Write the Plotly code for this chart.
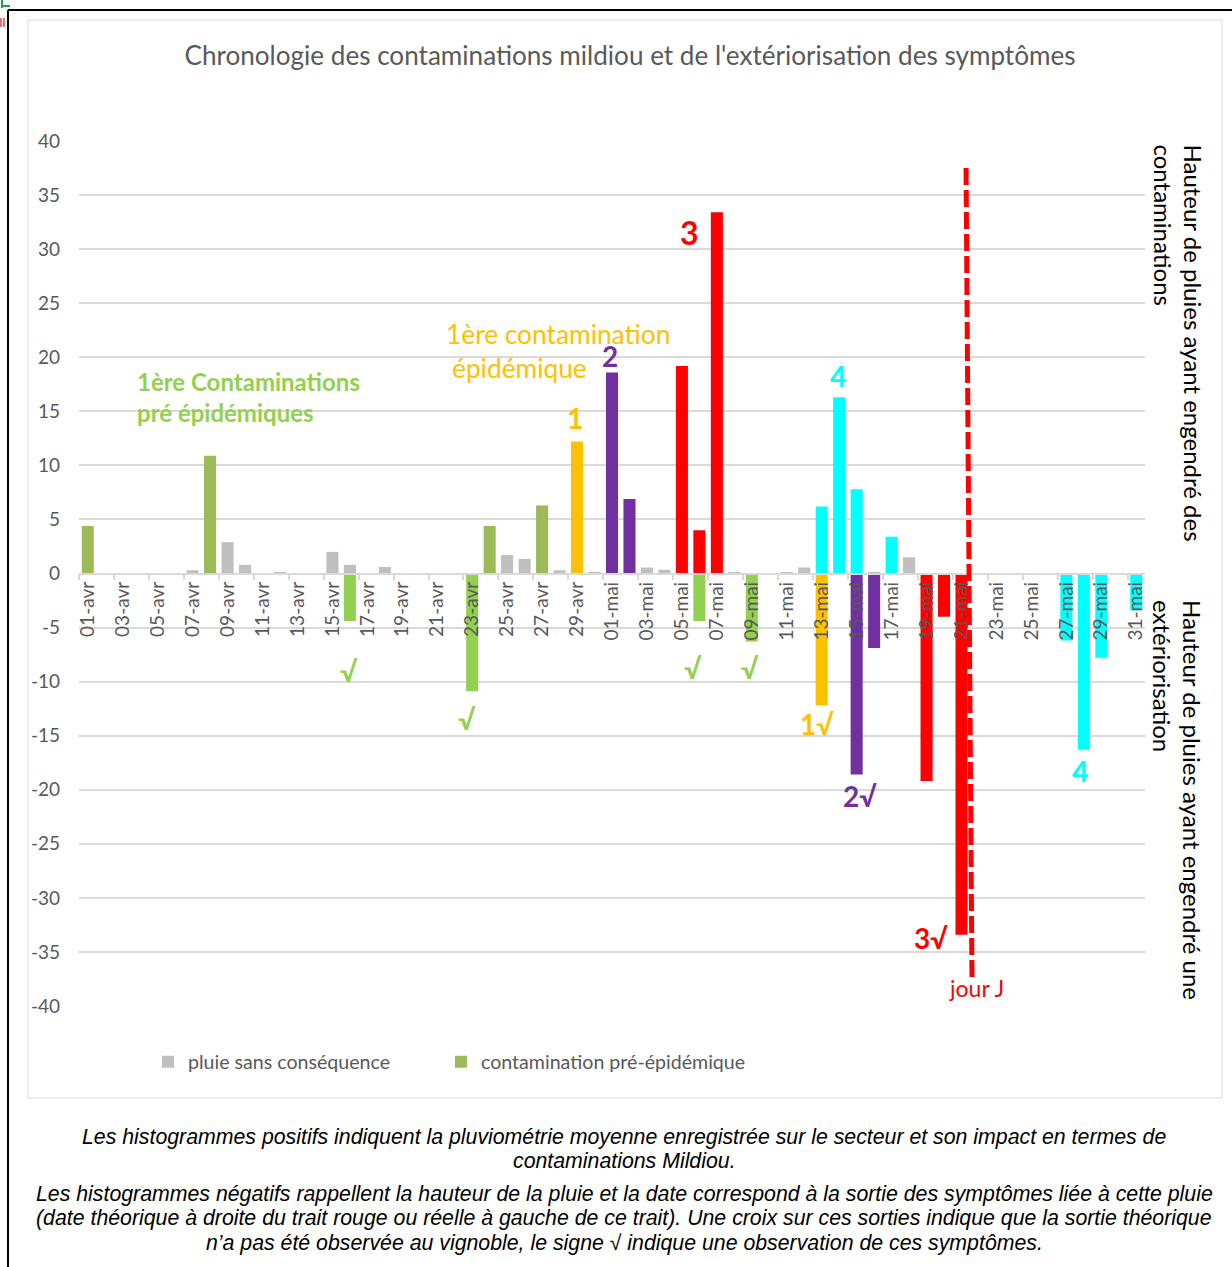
import plotly.graph_objects as go

# ---------------- data ----------------
days = [f"{d:02d}-avr" for d in range(1, 31)] + [f"{d:02d}-mai" for d in range(1, 32)]

gray_dates = ["07-avr", "09-avr", "10-avr", "12-avr", "15-avr", "16-avr", "18-avr",
              "25-avr", "26-avr", "28-avr", "30-avr", "03-mai", "04-mai", "08-mai",
              "11-mai", "12-mai", "16-mai", "18-mai"]
gray_vals = [0.3, 2.9, 0.8, 0.15, 2.0, 0.8, 0.6,
             1.7, 1.35, 0.3, 0.15, 0.55, 0.35, 0.1,
             0.1, 0.55, 0.15, 1.5]

prepi_dates = ["01-avr", "08-avr", "24-avr", "27-avr"]
prepi_vals = [4.4, 10.9, 4.4, 6.3]

prepi_out_dates = ["16-avr", "23-avr", "06-mai", "09-mai"]
prepi_out_vals = [-4.4, -10.9, -4.4, -6.3]

c1_dates = ["29-avr", "13-mai"]
c1_vals = [12.2, -12.2]

c2_dates = ["01-mai", "02-mai", "15-mai", "16-mai"]
c2_vals = [18.6, 6.9, -18.6, -6.9]

c3_dates = ["05-mai", "06-mai", "07-mai", "19-mai", "20-mai", "21-mai"]
c3_vals = [19.2, 4.0, 33.4, -19.2, -4.0, -33.4]

c4_dates = ["13-mai", "14-mai", "15-mai", "17-mai", "27-mai", "28-mai", "29-mai", "31-mai"]
c4_vals = [6.2, 16.3, 7.8, 3.4, -6.2, -16.3, -7.8, -3.4]

y_ticks = [40, 35, 30, 25, 20, 15, 10, 5, 0, -5, -10, -15, -20, -25, -30, -35, -40]
y_ticktext = [str(v) for v in y_ticks]

title_text = "Chronologie des contaminations mildiou et de l'extériorisation des symptômes"
caption_lines = [
    "Les histogrammes positifs indiquent la pluviométrie moyenne enregistrée sur le secteur et son impact en termes de",
    "contaminations Mildiou.",
    "Les histogrammes négatifs rappellent la hauteur de la pluie et la date correspond à la sortie des symptômes liée à cette pluie",
    "(date théorique à droite du trait rouge ou réelle à gauche de ce trait). Une croix sur ces sorties indique que la sortie théorique",
    "n\u2019a pas été observée au vignoble, le signe \u221a indique une observation de ces symptômes.",
]

# ---------------- layout helpers ----------------
W, H = 1232, 1267
L, R, T, B = 79, 1145, 141, 1006


def px(x):
    return (x - L) / (R - L)


def py(y):
    return (B - y) / (B - T)


FONT = "Lato"
GRAY_TXT = "#595959"

fig = go.Figure()


def add_bar(x, y, color, name, show, legend="legend"):
    fig.add_trace(go.Bar(x=x, y=y, marker=dict(color=color, line=dict(width=0)),
                         name=name, showlegend=show, legend=legend, hoverinfo="x+y"))


add_bar(gray_dates, gray_vals, "#BFBFBF", "pluie sans conséquence", True, "legend")
add_bar(prepi_dates, prepi_vals, "#9BBB59", "contamination pré-épidémique", True, "legend2")
add_bar(prepi_out_dates, prepi_out_vals, "#92D050", "sortie pré-épidémique", False)
add_bar(c1_dates, c1_vals, "#FFC000", "contamination 1", False)
add_bar(c2_dates, c2_vals, "#7030A0", "contamination 2", False)
add_bar(c3_dates, c3_vals, "#FF0000", "contamination 3", False)
add_bar(c4_dates, c4_vals, "#00FFFF", "contamination 4", False)

annotations = []


def ann(x, y, text, color, size, bold=False, xanchor="center", yanchor="middle",
        angle=0, family=FONT, style="normal"):
    annotations.append(dict(
        x=px(x), y=py(y), xref="paper", yref="paper", text=text, showarrow=False,
        xanchor=xanchor, yanchor=yanchor, textangle=angle,
        font=dict(family=family, size=size, color=color,
                  weight="bold" if bold else "normal", style=style)))


# chart annotations
ann(135, 381, "1ère Contaminations", "#92D050", 24, True, xanchor="left")
ann(135, 413, "pré épidémiques", "#92D050", 24, True, xanchor="left")
ann(444, 334, "1ère contamination", "#FFC000", 26.3, xanchor="left")
ann(450, 368, "épidémique", "#FFC000", 26.3, xanchor="left")
ann(575, 418, "1", "#FFC000", 28, True)
ann(610, 356, "2", "#7030A0", 28, True)
ann(689, 232, "3", "#FF0000", 32, True)
ann(838, 376, "4", "#00FFFF", 28, True)
for cx, cy in [(349, 671), (467, 719), (693, 668), (750, 668)]:
    ann(cx, cy, "\u221a", "#92D050", 28, True)
ann(817, 724, "1\u221a", "#FFC000", 28, True)
ann(860, 796, "2\u221a", "#7030A0", 28, True)
ann(931, 938, "3\u221a", "#FF0000", 28, True)
ann(1080, 771, "4", "#00FFFF", 28, True)
ann(976, 988, "jour J", "#FF0000", 23)

# right side axis texts
ann(1193, 142, "Hauteur de pluies ayant engendré des", "#000000", 24, yanchor="top", angle=90)
ann(1163, 142, "contaminations", "#000000", 24, yanchor="top", angle=90)
ann(1193, 598, "Hauteur de pluies ayant engendré une", "#000000", 24, yanchor="top", angle=90)
ann(1163, 598, "extériorisation", "#000000", 24, yanchor="top", angle=90)

# caption
for txt, cy in zip(caption_lines, [1137, 1161, 1194, 1218, 1243]):
    ann(624, cy, txt, "#000000", 21.3, family="Liberation Sans", style="italic")

shapes = [
    # chart area border
    dict(type="rect", xref="paper", yref="paper", x0=px(28), x1=px(1222), y0=py(20), y1=py(1098),
         line=dict(color="#D9D9D9", width=1), layer="below"),
    # outer black frame
    dict(type="line", xref="paper", yref="paper", x0=px(8), x1=px(1240), y0=py(10), y1=py(10),
         line=dict(color="#000000", width=2)),
    dict(type="line", xref="paper", yref="paper", x0=px(8), x1=px(8), y0=py(10), y1=py(1275),
         line=dict(color="#000000", width=2)),
    # small corner artefacts
    dict(type="line", xref="paper", yref="paper", x0=px(2), x1=px(2), y0=py(0), y1=py(8),
         line=dict(color="#1E9E50", width=2)),
    dict(type="line", xref="paper", yref="paper", x0=px(2), x1=px(10), y0=py(6), y1=py(6),
         line=dict(color="#1E9E50", width=2)),
    dict(type="line", xref="paper", yref="paper", x0=px(1), x1=px(1), y0=py(18), y1=py(27),
         line=dict(color="#E04040", width=1.5)),
    dict(type="line", xref="paper", yref="paper", x0=px(4), x1=px(4), y0=py(18), y1=py(27),
         line=dict(color="#E04040", width=1.5)),
    # jour J dashed line
    dict(type="line", xref="x", yref="y", x0=50.26, x1=50.6, y0=37.5, y1=-37.6,
         line=dict(color="#FF0000", width=5, dash="17px,5px")),
]

legend_common = dict(orientation="h", yanchor="middle", xanchor="left",
                     xref="paper", yref="paper", bgcolor="rgba(0,0,0,0)",
                     font=dict(family=FONT, size=19.6, color=GRAY_TXT))

fig.update_layout(
    width=W, height=H, autosize=False,
    margin=dict(l=L, r=W - R, t=T, b=H - B, pad=0),
    paper_bgcolor="white", plot_bgcolor="white",
    barmode="relative", bargap=0.31,
    title=dict(text=title_text, x=630 / W, xref="container", xanchor="center",
               y=1 - 56 / H, yref="container", yanchor="middle",
               font=dict(family=FONT, size=26.1, color=GRAY_TXT)),
    xaxis=dict(type="category", categoryorder="array", categoryarray=days,
               range=[-0.5, 60.5], tickmode="linear", tick0=0, dtick=2,
               tickson="boundaries", ticks="outside", ticklen=6, tickcolor="#D9D9D9", tickwidth=1.5,
               tickangle=-90, showline=True, linecolor="#D9D9D9", linewidth=1.5,
               showgrid=False, anchor="free", position=0.5, zeroline=False,
               tickfont=dict(family=FONT, size=19, color=GRAY_TXT)),
    yaxis=dict(range=[-40, 40], tickmode="array", tickvals=y_ticks, ticktext=y_ticktext,
               showgrid=True, gridcolor="#D9D9D9", gridwidth=1.5,
               zeroline=True, zerolinecolor="#D9D9D9", zerolinewidth=1.5,
               showline=False, ticks="", ticklabelstandoff=18,
               tickfont=dict(family=FONT, size=19, color=GRAY_TXT)),
    legend=dict(x=px(148), y=py(1062), **legend_common),
    legend2=dict(x=px(441), y=py(1062), **legend_common),
    annotations=annotations,
    shapes=shapes,
)

fig.write_html("out.html", config={"displayModeBar": False},
               post_script="document.body.style.margin='0';document.body.style.overflow='hidden';")
